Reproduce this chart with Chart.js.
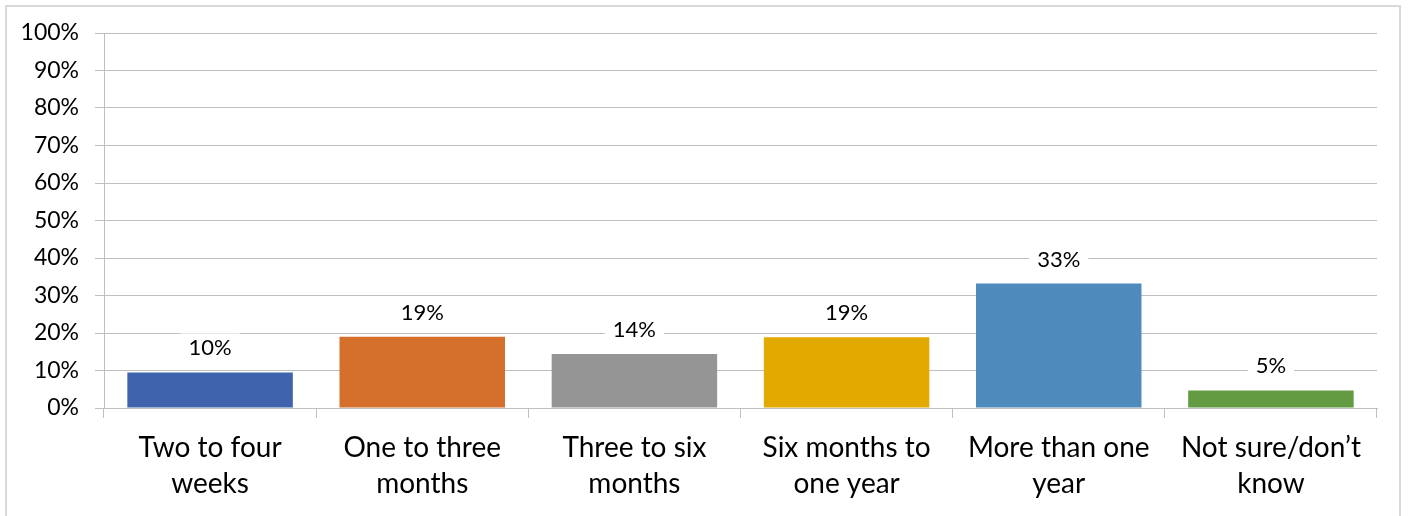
<!DOCTYPE html>
<html>
<head>
<meta charset="utf-8">
<script src="https://cdn.jsdelivr.net/npm/chart.js@4"></script>
<style>
  html, body { margin: 0; padding: 0; background: #fff; }
  #wrap { position: relative; width: 1409px; height: 516px; overflow: hidden; }
  #frame { position: absolute; left: 5px; top: 5px; width: 1396px; height: 600px; border: 2px solid #d9d9d9; box-sizing: border-box; }
  canvas { position: absolute; left: 0; top: 0; }
</style>
</head>
<body>
<div id="wrap">
  <div id="frame"></div>
  <canvas id="chart" width="1409" height="516"></canvas>
</div>
<script>
const categories = [
  ["Two to four", "weeks"],
  ["One to three", "months"],
  ["Three to six", "months"],
  ["Six months to", "one year"],
  ["More than one", "year"],
  ["Not sure/don\u2019t", "know"]
];
const values = [9.5, 19, 14.4, 18.9, 33.2, 4.7];
const barColors = ["#3F64AD", "#D46F2C", "#959595", "#E2A900", "#4F8ABD", "#629B41"];
const yTicks = [0, 10, 20, 30, 40, 50, 60, 70, 80, 90, 100];

const FONT = "Lato, 'Open Sans', sans-serif";

// white-boxed value labels above each bar
const valueLabels = {
  id: "valueLabels",
  afterDatasetsDraw(chart) {
    const ctx = chart.ctx;
    const meta = chart.getDatasetMeta(0);
    ctx.save();
    ctx.font = "22px " + FONT;
    ctx.textAlign = "center";
    ctx.textBaseline = "middle";
    meta.data.forEach((bar, i) => {
      const txt = Math.round(values[i]) + "%";
      const w = ctx.measureText(txt).width + 16;
      const y = bar.y - 25;
      ctx.fillStyle = "#fff";
      ctx.fillRect(bar.x - w / 2, y - 14, w, 28);
      ctx.fillStyle = "#000";
      ctx.fillText(txt, bar.x, y + 1);
    });
    ctx.restore();
  }
};

new Chart(document.getElementById("chart"), {
  type: "bar",
  data: {
    labels: categories,
    datasets: [{
      data: values,
      backgroundColor: barColors,
      borderWidth: 0,
      barPercentage: 0.78,
      categoryPercentage: 1
    }]
  },
  options: {
    responsive: false,
    animation: false,
    layout: { padding: { top: 33, left: 0, right: 32, bottom: 0 } },
    plugins: { legend: { display: false }, tooltip: { enabled: false } },
    scales: {
      x: {
        grid: { drawOnChartArea: false, drawTicks: true, tickLength: 10, color: "#bfbfbf", offset: true },
        border: { color: "#bfbfbf", width: 1 },
        ticks: { color: "#000", font: { family: FONT, size: 28, lineHeight: 1.32 }, padding: 11, maxRotation: 0, autoSkip: false },
        afterFit(scale) { scale.height = 108; }
      },
      y: {
        min: 0,
        max: 100,
        afterBuildTicks(scale) { scale.ticks = yTicks.map(v => ({ value: v })); },
        grid: { color: "#bfbfbf", tickLength: 9 },
        border: { color: "#bfbfbf", width: 1 },
        ticks: {
          color: "#000",
          font: { family: FONT, size: 23 },
          padding: 16,
          callback: v => v + "%"
        },
        afterFit(scale) { scale.width = 104; }
      }
    }
  },
  plugins: [valueLabels]
});
</script>
</body>
</html>
